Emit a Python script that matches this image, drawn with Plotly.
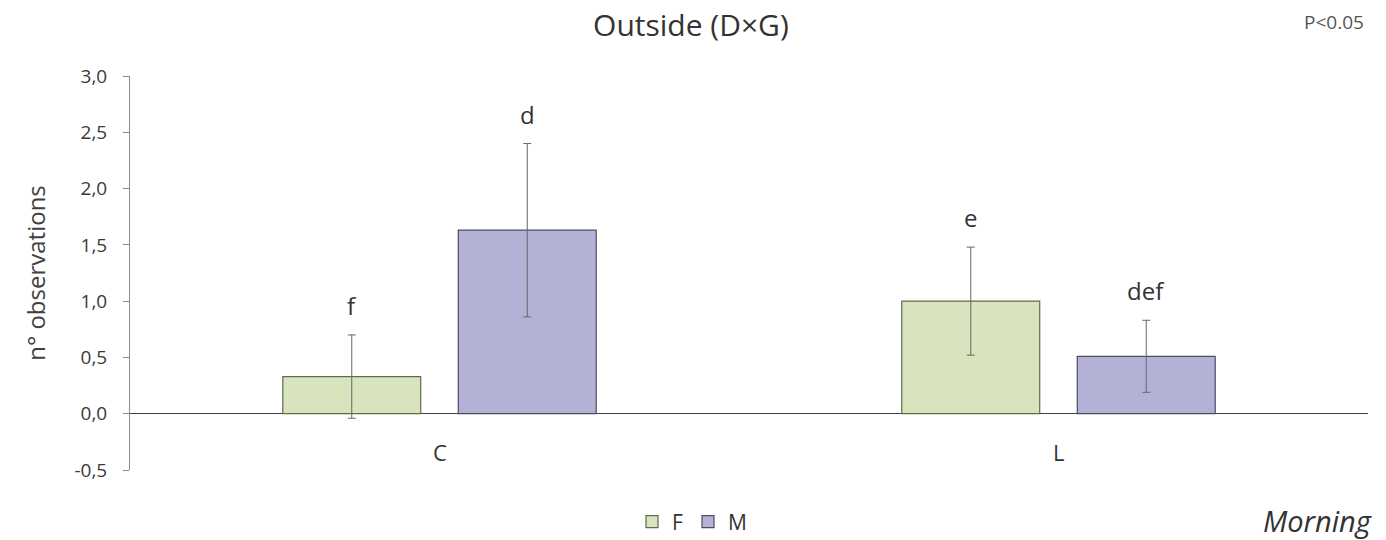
import plotly.graph_objects as go

# Group means and standard errors of the number of observations
categories = ["C", "L"]
female_values = [0.33, 1.00]
female_errors = [0.37, 0.48]
male_values = [1.63, 0.51]
male_errors = [0.77, 0.32]
female_letters = ["f", "e"]
male_letters = ["d", "def"]
y_tick_values = [-0.5, 0.0, 0.5, 1.0, 1.5, 2.0, 2.5, 3.0]
y_tick_labels = ["-0,5", "0,0", "0,5", "1,0", "1,5", "2,0", "2,5", "3,0"]

FONT = "'Open Sans', Lato, sans-serif"
TEXT_COLOR = "#404040"

# Plot area in pixels (used to place paper-referenced notes)
L, R, T, B = 130, 1368, 76, 470
W, H = 1386, 540

BARGAP = 0.433
BARGROUPGAP = 0.214
slot = (1 - BARGAP) / 2          # width of one bar slot in category units
bar_shift = slot / 2              # offset of each bar centre from its category

fig = go.Figure()

fig.add_trace(go.Bar(
    name="F", x=categories, y=female_values,
    marker=dict(color="#d7e4bd", line=dict(color="#5f6b4a", width=1.2)),
    error_y=dict(type="data", array=female_errors, visible=True,
                 color="#666666", thickness=1, width=4),
    offsetgroup="F",
))
fig.add_trace(go.Bar(
    name="M", x=categories, y=male_values,
    marker=dict(color="#b3b1d6", line=dict(color="#4d4d5e", width=1.2)),
    error_y=dict(type="data", array=male_errors, visible=True,
                 color="#666666", thickness=1, width=4),
    offsetgroup="M",
))

annotations = []
for i, cat in enumerate(categories):
    # Significance letters above the error bars
    for letters, vals, errs, shift in (
        (female_letters, female_values, female_errors, -bar_shift),
        (male_letters, male_values, male_errors, bar_shift),
    ):
        annotations.append(dict(
            x=i + shift, xref="x", y=vals[i] + errs[i], yref="y",
            text=letters[i], showarrow=False, yanchor="bottom", yshift=11,
            font=dict(family=FONT, size=24, color="#333333"),
        ))
    # Category labels sit just below the zero line
    annotations.append(dict(
        x=cat, xref="x", y=-0.34, yref="y", text=cat, showarrow=False,
        font=dict(family=FONT, size=22, color="#333333"),
    ))

# Corner notes: significance level and time of day
annotations.append(dict(
    text="P<0.05", x=(1366 - L) / (R - L), y=(B - 22) / (B - T),
    xref="paper", yref="paper", showarrow=False,
    xanchor="right", yanchor="middle",
    font=dict(family=FONT, size=19, color="#555555")))
annotations.append(dict(
    text="<i>Morning</i>", x=(1374 - L) / (R - L), y=(B - 520) / (B - T),
    xref="paper", yref="paper", showarrow=False,
    xanchor="right", yanchor="middle",
    font=dict(family=FONT, size=29, color="#333333")))

fig.update_layout(
    width=W, height=H,
    margin=dict(l=L, r=W - R, t=T, b=H - B, autoexpand=False),
    paper_bgcolor="white", plot_bgcolor="white",
    barmode="group", bargap=BARGAP, bargroupgap=BARGROUPGAP,
    title=dict(text="Outside (D×G)", x=0.4985, xanchor="center",
               y=1 - 25 / H, yanchor="middle",
               font=dict(family=FONT, size=30, color="#333333")),
    font=dict(family=FONT, color=TEXT_COLOR),
    showlegend=True,
    legend=dict(orientation="h", x=(632 - L) / (R - L), xanchor="left",
                yref="container", y=1 - 522 / H, yanchor="middle",
                font=dict(family=FONT, size=21, color="#333333"),
                itemwidth=30, tracegroupgap=0, bgcolor="rgba(0,0,0,0)"),
    xaxis=dict(range=[-0.5, 1.5], showticklabels=False, showline=False,
               showgrid=False, zeroline=False, ticks=""),
    yaxis=dict(range=[-0.5, 3.0], tickvals=y_tick_values,
               ticktext=y_tick_labels,
               showline=True, linecolor="#8c8c8c", linewidth=1,
               ticks="outside", ticklen=6, tickcolor="#8c8c8c",
               ticklabelstandoff=12,
               showgrid=False, zeroline=True, zerolinecolor="#404040",
               zerolinewidth=1.2,
               tickfont=dict(family=FONT, size=19, color="#3a3a3a"),
               title=dict(text="n° observations", standoff=22,
                          font=dict(family=FONT, size=24, color=TEXT_COLOR))),
    annotations=annotations,
)

fig.write_html("out.html")
